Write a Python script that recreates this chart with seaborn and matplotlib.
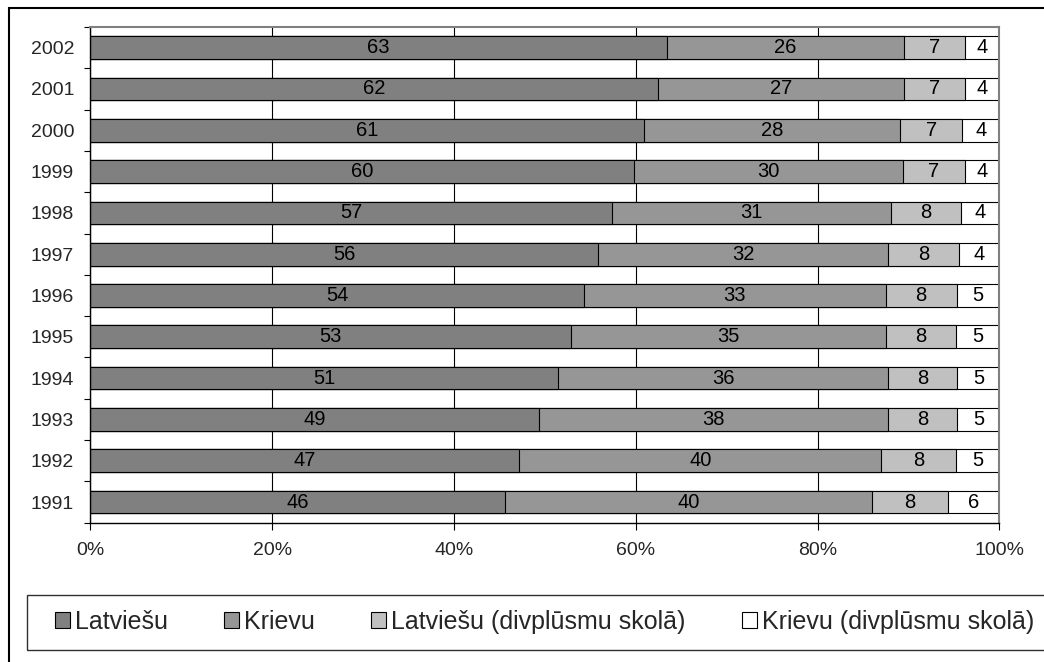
import numpy as np
import pandas as pd
import matplotlib
matplotlib.use('Agg')
import matplotlib.pyplot as plt
import seaborn as sns
from matplotlib.patches import Rectangle, Patch

# shares in %, top row first (2002 -> 1991)
years = ['2002', '2001', '2000', '1999', '1998', '1997',
         '1996', '1995', '1994', '1993', '1992', '1991']
latviesu = [63.4, 62.4, 60.9, 59.8, 57.4, 55.9, 54.3, 52.9, 51.4, 49.4, 47.2, 45.6]
krievu = [26.1, 27.1, 28.2, 29.6, 30.7, 31.9, 33.2, 34.6, 36.4, 38.4, 39.8, 40.4]
latviesu_div = [6.7, 6.7, 6.8, 6.8, 7.7, 7.8, 7.8, 7.7, 7.6, 7.6, 8.2, 8.4]
krievu_div = [3.8, 3.8, 4.1, 3.8, 4.2, 4.4, 4.7, 4.8, 4.6, 4.6, 4.8, 5.6]

series = ['Latviešu', 'Krievu', 'Latviešu (divplūsmu skolā)', 'Krievu (divplūsmu skolā)']
colors = ['#808080', '#969696', '#c0c0c0', '#ffffff']

df = pd.DataFrame({'year': years, series[0]: latviesu, series[1]: krievu,
                   series[2]: latviesu_div, series[3]: krievu_div})

# cumulative ends for stacking
cum = df[series].cumsum(axis=1)
cum['year'] = df['year']

sns.set_style('white')
plt.rcParams['font.family'] = ['Liberation Sans', 'DejaVu Sans']

fig = plt.figure(figsize=(10.44, 6.62), dpi=100)
ax = fig.add_axes([90.3 / 1044, 1 - 522.7 / 662, (999.3 - 90.3) / 1044, (522.7 - 27) / 662])

# draw the widest (cumulative) bar first, then the shorter ones on top
for s, c in list(zip(series, colors))[::-1]:
    sns.barplot(data=cum, x=s, y='year', order=years, orient='h', color=c,
                saturation=1, edgecolor='black', linewidth=0.8, width=0.55,
                errorbar=None, ax=ax, zorder=2)

# value labels in the middle of each segment
for i in range(len(years)):
    left = 0
    for s in series:
        v = df.loc[i, s]
        ax.text(left + v / 2, i, f'{v:.0f}', ha='center', va='center',
                fontsize=14.5, color='black', zorder=5)
        left += v

ax.set_xlim(0, 100)
ax.set_xticks(np.arange(0, 101, 20))
ax.set_xticklabels([f'{t}%' for t in range(0, 101, 20)])
ax.set_xlabel('')
ax.set_ylabel('')
ax.set_yticks(np.arange(-0.5, 12, 1), minor=True)
ax.tick_params(axis='x', direction='out', length=5, width=0.8, color='black',
               labelsize=14, pad=9, bottom=True)
ax.tick_params(axis='y', which='major', length=0, labelsize=14, pad=11.7)
ax.tick_params(axis='y', which='minor', direction='out', length=4, width=0.8,
               color='black', left=True)

ax.set_axisbelow(True)
ax.xaxis.grid(True, color='black', linewidth=0.8)
ax.yaxis.grid(False)

for side in ['top', 'right']:
    ax.spines[side].set_color('#808080')
    ax.spines[side].set_linewidth(1.5)
for side in ['left', 'bottom']:
    ax.spines[side].set_color('black')
    ax.spines[side].set_linewidth(1)

# outer chart frame (runs off the right and bottom edge)
fig.add_artist(Rectangle((9 / 1044, -0.1), 1.2, 1 - 8 / 662 + 0.1,
                         transform=fig.transFigure, fill=False,
                         edgecolor='black', linewidth=1.5))
# legend frame
fig.add_artist(Rectangle((27 / 1044, 1 - 650 / 662), 1.2, 55 / 662,
                         transform=fig.transFigure, fill=False,
                         edgecolor='#303030', linewidth=1))

handles = [Patch(facecolor=c, edgecolor='black', linewidth=0.8) for c in colors]
fig.legend(handles, series, ncol=4, loc='center left',
           bbox_to_anchor=(55 / 1044, 1 - 622 / 662), frameon=False,
           fontsize=18, handlelength=0.6, handleheight=0.6, handletextpad=0.2,
           columnspacing=2.25, borderpad=0, borderaxespad=0)

fig.savefig('out.png', dpi=100)
